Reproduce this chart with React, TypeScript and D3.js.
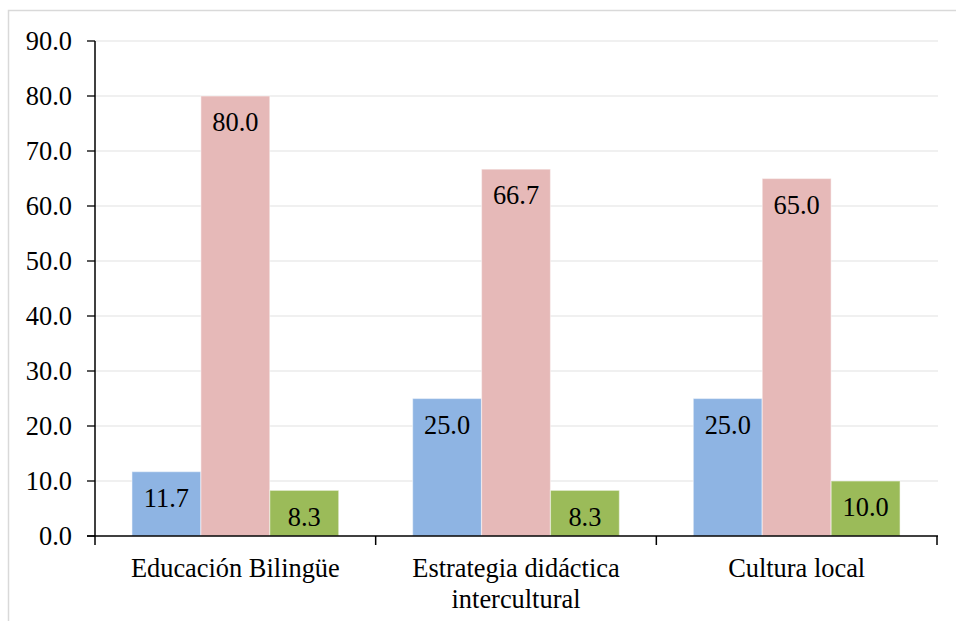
import React from "react";
import * as d3 from "d3";

const categories: string[][] = [
  ["Educación Bilingüe"],
  ["Estrategia didáctica", "intercultural"],
  ["Cultura local"],
];
const seriesNames = ["Serie 1", "Serie 2", "Serie 3"];
const serie1 = [11.7, 25.0, 25.0];
const serie2 = [80.0, 66.7, 65.0];
const serie3 = [8.3, 8.3, 10.0];
const yTicks = [0, 10, 20, 30, 40, 50, 60, 70, 80, 90];
const colors = ["#8eb4e3", "#e6b9b8", "#9bbb59"];

const W = 956;
const H = 621;
const left = 95;
const right = 937;
const top = 41;
const bottom = 536;
const font = '"Liberation Serif", "Times New Roman", Times, serif';
const fs = 26.4;
const txt = { fontFamily: font, fontSize: fs };

export default function App() {
  const series = [serie1, serie2, serie3];
  const catKeys = categories.map((c) => c.join(" "));
  const x0 = d3.scaleBand<string>().domain(catKeys).range([left, right]).padding(0);
  const x1 = d3
    .scaleBand<string>()
    .domain(seriesNames)
    .range([0, x0.step()])
    .paddingInner(0)
    .paddingOuter(0.536);
  const y = d3.scaleLinear().domain([0, 90]).range([bottom, top]);

  return (
    <svg
      width={W}
      height={H}
      style={{ position: "absolute", left: 0, top: 0, background: "#fff", fontFamily: font }}
    >
      <rect x={8.5} y={10.5} width={W + 10} height={H + 10} fill="#fff" stroke="#d9d9d9" strokeWidth={1.5} />
      {yTicks.map((t) => (
        <g key={t}>
          {t > 0 && (
            <line x1={left} x2={right + 1} y1={y(t)} y2={y(t)} stroke="#ebebeb" strokeWidth={1.3} />
          )}
          <line x1={left - 8} x2={left} y1={y(t)} y2={y(t)} stroke="#000" strokeWidth={1.3} />
          <text x={72} y={y(t)} dy="0.35em" textAnchor="end" style={txt} fill="#000">
            {t.toFixed(1)}
          </text>
        </g>
      ))}
      {catKeys.map((c, ci) => (
        <g key={c}>
          {series.map((s, si) => {
            const bx = (x0(c) as number) + (x1(seriesNames[si]) as number);
            const bw = x1.bandwidth();
            const v = s[ci];
            return (
              <g key={si}>
                <rect
                  x={bx}
                  y={y(v)}
                  width={bw}
                  height={y(0) - y(v)}
                  fill={colors[si]}
                  stroke="#ffffff"
                  strokeOpacity={0.45}
                  strokeWidth={1.2}
                />
                <text x={bx + bw / 2} y={y(v) + 26} dy="0.35em" textAnchor="middle" style={txt} fill="#000">
                  {v.toFixed(1)}
                </text>
              </g>
            );
          })}
          {categories[ci].map((line, li) => (
            <text
              key={li}
              x={(x0(c) as number) + x0.bandwidth() / 2}
              y={568 + li * 31}
              dy="0.35em"
              textAnchor="middle"
              style={txt}
              fill="#000"
            >
              {line}
            </text>
          ))}
        </g>
      ))}
      <line x1={left} x2={left} y1={top} y2={bottom} stroke="#000" strokeWidth={1.5} />
      <line x1={left - 8} x2={right + 1} y1={bottom} y2={bottom} stroke="#000" strokeWidth={1.5} />
      {[0, 1, 2, 3].map((i) => {
        const xx = left + i * x0.step();
        return <line key={i} x1={xx} x2={xx} y1={bottom} y2={bottom + 9} stroke="#000" strokeWidth={1.5} />;
      })}
    </svg>
  );
}
